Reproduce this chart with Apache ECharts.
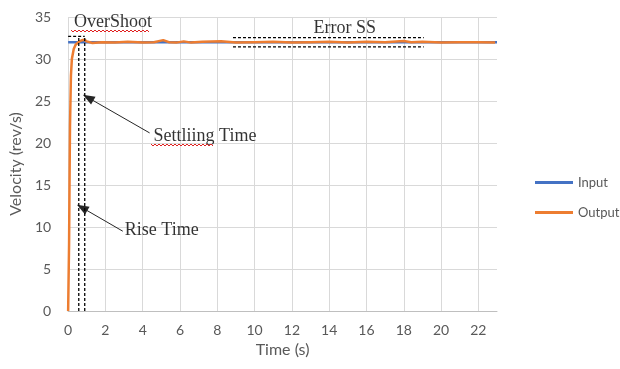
<!DOCTYPE html>
<html>
<head>
<meta charset="utf-8">
<script src="https://cdn.jsdelivr.net/npm/echarts@6/dist/echarts.min.js"></script>
<style>
  html, body { margin: 0; padding: 0; background: #fff; }
  #chart { width: 620px; height: 369px; }
</style>
</head>
<body>
<div id="chart"></div>
<script>
// input step (constant set point)
const inputTime = [0, 23]
const inputValues = [32, 32]

// measured output response
const outputTime = [0, 0.02, 0.05, 0.08, 0.1, 0.15, 0.2, 0.3, 0.4, 0.55, 0.7, 0.85, 1.0, 1.3, 1.8, 2.5, 3.2, 4.0, 4.6, 5.1, 5.4, 5.8, 6.2, 6.6, 7.2, 8.2, 9.0, 10.0, 11.0, 12.0, 13.0, 14.0, 15.0, 16.0, 17.0, 18.0, 18.4, 19.0, 20.0, 21.0, 22.0, 22.9]
const outputValues = [0, 0, 8, 17, 22, 28, 30, 31.2, 31.7, 32.0, 32.2, 32.3, 32.1, 31.9, 32.0, 31.95, 32.05, 31.95, 32.0, 32.25, 32.0, 31.95, 32.1, 31.95, 32.05, 32.1, 31.95, 32.0, 32.05, 31.95, 32.0, 32.05, 31.95, 32.05, 32.0, 32.15, 32.0, 32.05, 31.95, 32.0, 32.0, 31.95]

// annotation guides (data coordinates)
const riseTime = 0.57
const settlingTime = 0.89
const overshootLevel = 32.7
const errorBandTime = [8.84, 19.07]
const errorBandLevels = [32.55, 31.45]

const annotationTexts = [
  { name: 'OverShoot', value: [0.32, 34.4] },
  { name: 'Error SS', value: [13.16, 33.7] },
  { name: 'Settliing Time', value: [4.58, 20.8] },
  { name: 'Rise Time', value: [3.04, 9.6] },
]
const arrows = [
  [[4.37, 21.2], [1.07, 25.4]],
  [[2.93, 9.5], [0.75, 12.3]],
]

const chart = echarts.init(document.getElementById('chart'))

const zip = (xs, ys) => xs.map((x, i) => [x, ys[i]])
const dashStyle = { color: '#000', width: 1.3, type: [3, 2] }

function guide(points) {
  return {
    type: 'line',
    data: points,
    symbol: 'none',
    silent: true,
    lineStyle: dashStyle,
    z: 5,
  }
}

const guideSeries = [
  guide([[riseTime, 0], [riseTime, overshootLevel]]),
  guide([[settlingTime, 0], [settlingTime, overshootLevel]]),
  guide([[0, overshootLevel], [settlingTime, overshootLevel]]),
  guide([[errorBandTime[0], errorBandLevels[0]], [errorBandTime[1], errorBandLevels[0]]]),
  guide([[errorBandTime[0], errorBandLevels[1]], [errorBandTime[1], errorBandLevels[1]]]),
]

// red spell-check squiggle under a word (pixel decoration)
function squiggle(x0, x1, y) {
  const pts = []
  let up = true
  for (let x = x0; x <= x1; x += 2) {
    pts.push([x, up ? y : y + 2])
    up = !up
  }
  return { type: 'polyline', shape: { points: pts }, style: { stroke: '#e02020', lineWidth: 1, fill: null }, z: 10 }
}

const labelFont = { color: '#595959', fontFamily: 'Lato', fontSize: 14 }

chart.setOption({
  animation: false,
  backgroundColor: '#fff',
  grid: { left: 65, right: 123, top: 17, bottom: 58 },
  legend: {
    data: ['Input', 'Output'],
    orient: 'vertical',
    left: 530,
    top: 171,
    itemWidth: 38,
    itemHeight: 3,
    itemGap: 17,
    icon: 'rect',
    textStyle: { color: '#595959', fontFamily: 'Lato', fontSize: 13 },
  },
  xAxis: {
    type: 'value',
    min: 0,
    max: 23,
    interval: 2,
    name: 'Time (s)',
    nameLocation: 'middle',
    nameGap: 30,
    nameTextStyle: { color: '#595959', fontFamily: 'Lato', fontSize: 16 },
    axisLine: { show: true, lineStyle: { color: '#bfbfbf' } },
    axisTick: { show: false },
    axisLabel: Object.assign({ showMaxLabel: false, margin: 12 }, labelFont),
    splitLine: { show: true, showMaxLine: false, lineStyle: { color: '#d9d9d9' } },
  },
  yAxis: {
    type: 'value',
    min: 0,
    max: 35,
    interval: 5,
    name: 'Velocity (rev/s)',
    nameLocation: 'middle',
    nameGap: 42,
    nameTextStyle: { color: '#595959', fontFamily: 'Lato', fontSize: 16 },
    axisLine: { show: false },
    axisTick: { show: false },
    axisLabel: Object.assign({ margin: 17 }, labelFont),
    splitLine: { show: true, lineStyle: { color: '#d9d9d9' } },
  },
  series: [
    {
      name: 'Input',
      type: 'line',
      data: zip(inputTime, inputValues),
      symbol: 'none',
      color: '#4472c4',
      lineStyle: { width: 2.5 },
      z: 3,
    },
    {
      name: 'Output',
      type: 'line',
      data: zip(outputTime, outputValues),
      symbol: 'none',
      color: '#ed7d31',
      lineStyle: { width: 2.5 },
      z: 4,
      markLine: {
        silent: true,
        symbol: ['none', 'triangle'],
        symbolSize: [9, 12],
        label: { show: false },
        lineStyle: { color: '#262626', width: 1, type: 'solid' },
        data: arrows.map(a => [{ coord: a[0] }, { coord: a[1] }]),
      },
    },
    ...guideSeries,
    {
      type: 'scatter',
      data: annotationTexts,
      symbolSize: 0,
      silent: true,
      label: {
        show: true,
        position: 'right',
        distance: 0,
        formatter: p => p.name,
        color: '#000',
        fontFamily: 'Liberation Serif',
        fontSize: 18,
      },
      z: 6,
    },
  ],
  graphic: [
    squiggle(71, 150, 30),
    squiggle(151, 214, 144),
  ],
})
</script>
</body>
</html>
